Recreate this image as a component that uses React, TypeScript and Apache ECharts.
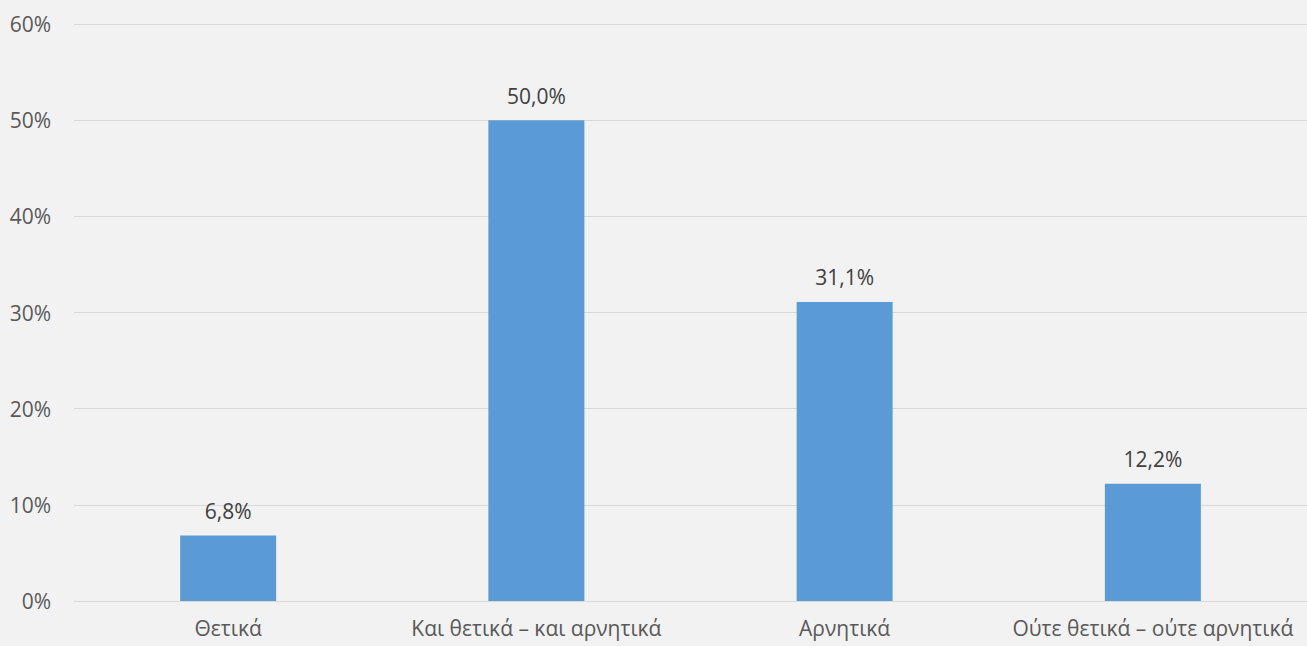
import React, { useEffect, useRef } from "react";
import * as echarts from "echarts";

const categories = ["Θετικά", "Και θετικά – και αρνητικά", "Αρνητικά", "Ούτε θετικά – ούτε αρνητικά"];
const values = [6.8, 50.0, 31.1, 12.2];
const yTicks = [0, 10, 20, 30, 40, 50, 60];

export default function App() {
  const ref = useRef<HTMLDivElement>(null);
  useEffect(() => {
    document.body.style.margin = "0";
    const chart = echarts.init(ref.current!, null, { renderer: "svg" });
    const font = "'Open Sans', 'Noto Sans', sans-serif";
    chart.setOption({
      animation: false,
      backgroundColor: "#f2f2f2",
      grid: { left: 74, right: 0, top: 24, bottom: 45 },
      xAxis: {
        type: "category",
        data: categories,
        axisLine: { lineStyle: { color: "#d9d9d9", width: 1 } },
        axisTick: { show: false },
        axisLabel: { color: "#595959", fontSize: 21, fontFamily: font, margin: 16, interval: 0 },
      },
      yAxis: {
        type: "value",
        min: yTicks[0],
        max: yTicks[yTicks.length - 1],
        interval: 10,
        axisLine: { show: false },
        axisTick: { show: false },
        splitLine: { lineStyle: { color: "#d9d9d9", width: 1 } },
        axisLabel: { color: "#595959", fontSize: 21, fontFamily: font, margin: 23, formatter: (v: number) => v + "%" },
      },
      series: [
        {
          type: "bar",
          data: values,
          barWidth: 96,
          itemStyle: { color: "#5b9bd5" },
          label: {
            show: true,
            position: "top",
            distance: 14,
            color: "#404040",
            fontSize: 21,
            fontFamily: font,
            formatter: (p: any) => p.value.toFixed(1).replace(".", ",") + "%",
          },
        },
      ],
    });
    return () => chart.dispose();
  }, []);
  return <div ref={ref} style={{ position: "fixed", left: 0, top: 0, width: 1307, height: 646 }} />;
}
